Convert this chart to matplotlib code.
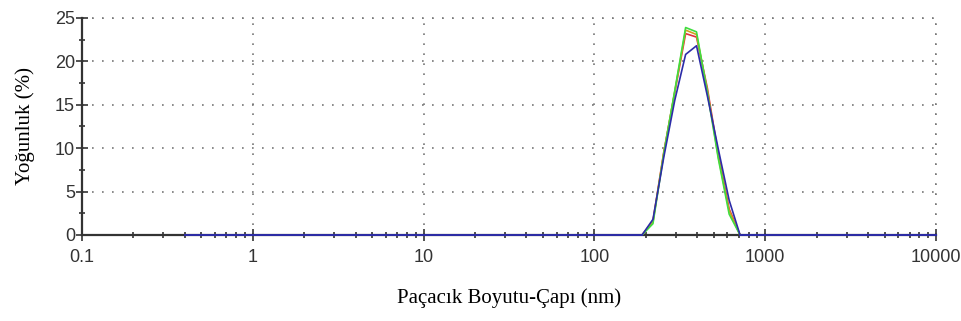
import matplotlib.pyplot as plt
from matplotlib.ticker import FixedLocator, LogLocator, NullFormatter, MultipleLocator

# Malvern size classes (nm) around the peak; baseline classes are zero
sizes_low = [0.4, 0.4632, 0.5365, 0.6213, 0.7195, 0.8332, 0.9649, 1.117, 1.294, 1.499,
             1.736, 2.01, 2.328, 2.696, 3.122, 3.615, 4.187, 4.849, 5.615, 6.503, 7.531,
             8.721, 10.1, 11.7, 13.54, 15.69, 18.17, 21.04, 24.36, 28.21, 32.67, 37.84,
             43.82, 50.75, 58.77, 68.06, 78.82, 91.28, 105.7, 122.4, 141.8, 164.2]
sizes_peak = [190.1, 220.2, 255.0, 295.3, 342.0, 396.1, 458.7, 531.2, 615.1, 712.4]
sizes_high = [825.0, 955.4, 1106, 1281, 1484, 1718, 1990, 2305, 2669, 3091, 3580, 4145,
              4801, 5560, 6439, 7456, 8635, 10000]

peak_red = [0, 1.6, 9.6, 16.4, 23.2, 22.8, 16.9, 9.3, 3.0, 0]
peak_green = [0, 1.3, 9.4, 16.6, 23.9, 23.4, 16.4, 8.8, 2.4, 0]
peak_orange = [0, 1.5, 9.5, 16.5, 23.6, 23.1, 16.6, 9.0, 2.8, 0]
peak_blue = [0, 1.8, 9.0, 15.5, 20.8, 21.8, 16.0, 9.9, 4.0, 0]

zeros_low = [0] * len(sizes_low)
zeros_high = [0] * len(sizes_high)

blue = "#2c2ca8"
series = [
    ("#e03040", peak_red),
    ("#d0a020", peak_orange),
    ("#40dd40", peak_green),
    (blue, peak_blue),
]

fig = plt.figure(figsize=(9.62, 3.21), dpi=100)
ax = fig.add_axes([0.0852, 0.268, 0.8878, 0.676])

for color, peak in series:
    ax.plot(sizes_peak, peak, color=color, linewidth=1.2, zorder=3)
# zero classes of the blue run are drawn over the x axis
ax.plot(sizes_low + [sizes_peak[0]], zeros_low + [0], color=blue, linewidth=1.4,
        zorder=3, clip_on=False)
ax.plot([sizes_peak[-1]] + sizes_high, [0] + zeros_high, color=blue, linewidth=1.4,
        zorder=3, clip_on=False)

ax.set_xscale("log")
ax.set_xlim(0.1, 10000)
ax.set_ylim(0, 25)

ax.xaxis.set_major_locator(FixedLocator([0.1, 1, 10, 100, 1000, 10000]))
ax.set_xticklabels(["0.1", "1", "10", "100", "1000", "10000"])
ax.xaxis.set_minor_locator(LogLocator(base=10, subs=range(2, 10), numticks=20))
ax.xaxis.set_minor_formatter(NullFormatter())
ax.yaxis.set_major_locator(MultipleLocator(5))
ax.yaxis.set_minor_locator(MultipleLocator(2.5))

for side in ("top", "right"):
    ax.spines[side].set_visible(False)
for side in ("left", "bottom"):
    ax.spines[side].set_color("#333333")
    ax.spines[side].set_linewidth(1.6)

ax.tick_params(axis="both", which="both", direction="inout", color="#333333", width=1.2)
ax.tick_params(axis="both", which="major", length=8, labelsize=13, labelcolor="#333333")
ax.tick_params(axis="both", which="minor", length=5)
ax.tick_params(axis="x", which="major", pad=6)
ax.tick_params(axis="y", which="major", pad=1)
for lbl in ax.get_xticklabels() + ax.get_yticklabels():
    lbl.set_family("Liberation Sans")

ax.grid(True, which="major", linestyle=(0, (1, 5)), color="#777777", linewidth=1.2)
ax.set_axisbelow(True)
# top and right grid lines
ax.axhline(25, linestyle=(0, (1, 5)), color="#777777", linewidth=1.2, clip_on=False, zorder=0)
ax.axvline(10000, linestyle=(0, (1, 5)), color="#777777", linewidth=1.2, clip_on=False, zorder=0)

ax.set_xlabel("Paçacık Boyutu-Çapı (nm)", family="Liberation Serif", fontsize=15, labelpad=16)
ax.set_ylabel("Yoğunluk (%)", family="Liberation Serif", fontsize=15, labelpad=14)

fig.savefig("out.png", dpi=100)
